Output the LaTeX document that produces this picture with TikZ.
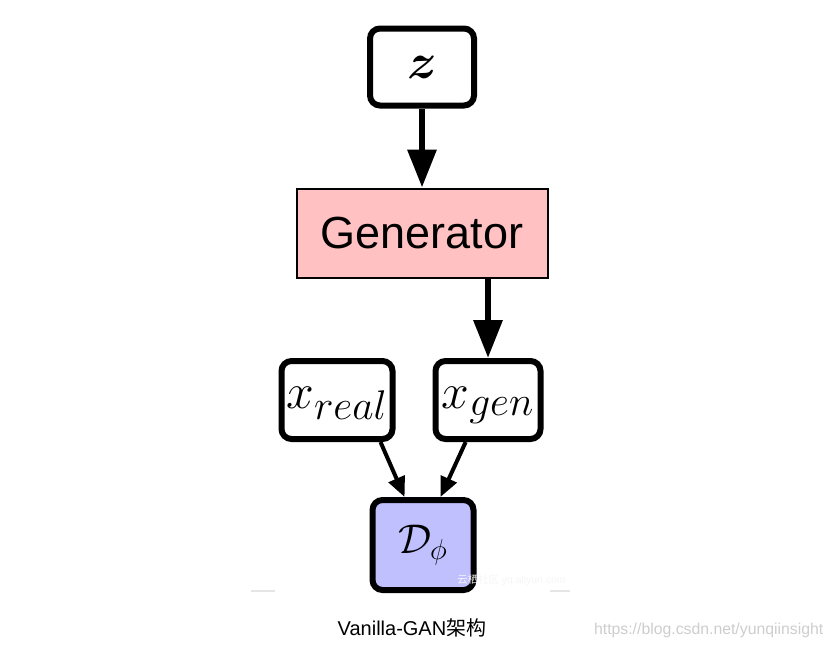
\documentclass[tikz,border=0pt]{standalone}
\usepackage{amsmath}
\usepackage{amssymb}
\usepackage{fontspec}
\usepackage{tikz}
\usetikzlibrary{arrows.meta,positioning,calc}
\setmainfont{Liberation Sans}
\newfontfamily\cjk{Noto Sans CJK SC}
\definecolor{genpink}{RGB}{255,193,193}
\definecolor{discblue}{RGB}{192,192,255}
\definecolor{markgray}{RGB}{205,205,205}

\begin{document}
\begin{tikzpicture}[
    x=0.5pt, y=-0.5pt,
    varbox/.style={rectangle, draw, line width=3pt, rounded corners=5pt, fill=white, inner sep=0pt, minimum height=39pt},
    genbox/.style={rectangle, draw, line width=1pt, fill=genpink, inner sep=0pt, minimum width=125.5pt, minimum height=44.5pt},
    discbox/.style={rectangle, draw, line width=3pt, rounded corners=5pt, fill=discblue, inner sep=0pt, minimum width=50.5pt, minimum height=45pt},
    bigarrow/.style={-{Triangle[length=19pt, width=14pt]}, line width=3.2pt},
    smallarrow/.style={-{Triangle[length=10pt, width=8.5pt]}, line width=2pt}
]
\useasboundingbox (0,0) rectangle (833,648);

% boxes
\node[varbox, minimum width=52pt, minimum height=38.5pt] (z) at (422,67) {\fontsize{38}{38}\selectfont$\boldsymbol{z}$};
\node[genbox] (gen) at (422,233) {\fontsize{22.5}{24}\selectfont Generator};
\node[varbox, minimum width=55.5pt] (xreal) at (337,400) {\raisebox{-4pt}[0pt][0pt]{\fontsize{28}{28}\selectfont$x_{real}$}};
\node[varbox, minimum width=52.5pt] (xgen) at (488,400) {\raisebox{-4pt}[0pt][0pt]{\fontsize{28}{28}\selectfont$x_{gen}$}};
\node[discbox] (disc) at (423,545) {\fontsize{21}{21}\selectfont$\mathcal{D}_{\phi}$};

% connectors
\draw[bigarrow] (z) -- (gen);
\draw[bigarrow] (xgen.north |- gen.south) -- (xgen.north);
\draw[smallarrow] (xreal.-44) -- (disc.111);
\draw[smallarrow] (xgen.-118) -- (disc.70);

% caption and marks
\node (caption) at (412,628) {\fontsize{10}{12}\selectfont Vanilla-GAN{\cjk 架构}};
\node[text=markgray, anchor=west] (url) at (587,630) {\fontsize{7.9}{9}\selectfont https://blog.csdn.net/yunqiinsight};
\node[text=black!4, anchor=west, inner sep=0pt] (site) at (457,580) {\fontsize{5.2}{6}\selectfont{\cjk 云栖社区} yq.aliyun.com};
\draw[black!10, line width=0.6pt] (251,591) -- (275,591);
\draw[black!10, line width=0.6pt] (550,591) -- (570,591);
\end{tikzpicture}
\end{document}
